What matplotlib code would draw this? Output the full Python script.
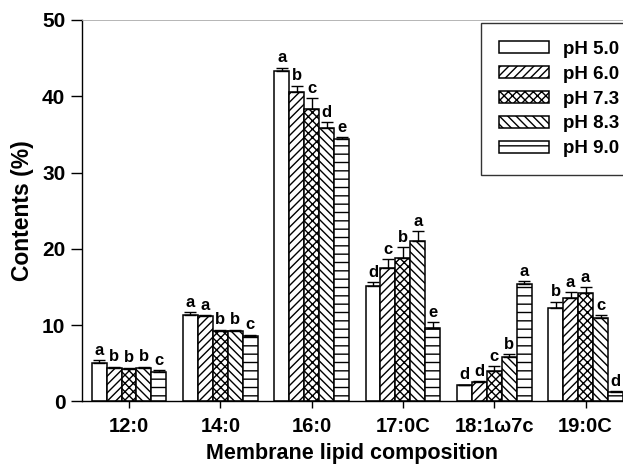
import matplotlib.pyplot as plt
import numpy as np

plt.rcParams['font.family'] = ['Liberation Sans', 'DejaVu Sans']
plt.rcParams['font.weight'] = 'bold'
plt.rcParams['hatch.linewidth'] = 1.0

# Fatty acid groups and pH treatments
lipids = ['12:0', '14:0', '16:0', '17:0C', '18:1\u03c97c', '19:0C']
ph_labels = ['pH 5.0', 'pH 6.0', 'pH 7.3', 'pH 8.3', 'pH 9.0']

# Mean contents (%) for each pH, one value per lipid
ph50 = [5.1, 11.4, 43.3, 15.1, 2.1, 12.2]
ph60 = [4.4, 11.2, 40.5, 17.5, 2.6, 13.6]
ph73 = [4.3, 9.3, 38.3, 18.8, 4.0, 14.2]
ph83 = [4.4, 9.3, 35.8, 21.0, 5.8, 11.0]
ph90 = [3.9, 8.6, 34.4, 9.6, 15.4, 1.2]

# Standard errors (upper bars only)
err50 = [0.3, 0.3, 0.45, 0.5, 0.1, 0.9]
err60 = [0.15, 0.15, 0.9, 1.2, 0.1, 0.7]
err73 = [0.15, 0.1, 1.5, 1.4, 0.6, 0.8]
err83 = [0.15, 0.1, 0.8, 1.3, 0.4, 0.3]
err90 = [0.2, 0.15, 0.2, 0.8, 0.4, 0.15]

# Significance letters
let50 = ['a', 'a', 'a', 'd', 'd', 'b']
let60 = ['b', 'a', 'b', 'c', 'd', 'a']
let73 = ['b', 'b', 'c', 'b', 'c', 'a']
let83 = ['b', 'b', 'd', 'a', 'b', 'c']
let90 = ['c', 'c', 'e', 'e', 'a', 'd']

values = [ph50, ph60, ph73, ph83, ph90]
errors = [err50, err60, err73, err83, err90]
letters = [let50, let60, let73, let83, let90]
hatches = ['', '////', 'xxxx', '\\\\\\\\', '--']

fig = plt.figure(figsize=(6.23, 4.65), dpi=100)
ax = fig.add_axes([0.1316, 0.1366, 1 - 0.1316, 0.957 - 0.1366])

x = np.arange(len(lipids))
w = 0.164
for k in range(5):
    pos = x + (k - 2) * w
    ax.bar(pos, values[k], width=w, color='white', edgecolor='black',
           linewidth=1.1, hatch=hatches[k], label=ph_labels[k], zorder=2)
    ax.errorbar(pos, values[k], yerr=[np.zeros(len(lipids)), errors[k]],
                fmt='none', ecolor='black', elinewidth=1.0, capsize=4,
                capthick=1.0, zorder=3)
    for xi, v, e, t in zip(pos, values[k], errors[k], letters[k]):
        ax.text(xi, v + e + 0.3, t, ha='center', va='bottom',
                fontsize=12, fontweight='bold')

ax.set_xlim(-0.515, 5.41)
ax.set_ylim(0, 50)
ax.set_yticks([0, 10, 20, 30, 40, 50])
ax.set_xticks(x)
ax.set_xticklabels(lipids)
ax.tick_params(axis='y', direction='out', length=8, width=1, labelsize=15, pad=4)
ax.tick_params(axis='x', direction='out', length=5, width=1, labelsize=14.5, pad=6)
for lab in ax.get_xticklabels() + ax.get_yticklabels():
    lab.set_fontweight('bold')

ax.spines['right'].set_visible(False)
ax.spines['top'].set_color('#aaaaaa')
ax.spines['top'].set_linewidth(0.6)
ax.spines['left'].set_linewidth(1.0)
ax.spines['bottom'].set_linewidth(1.0)

ax.set_xlabel('Membrane lipid composition', fontsize=15.5, fontweight='bold', labelpad=5.5)
ax.set_ylabel('Contents (%)', fontsize=16.5, fontweight='bold', labelpad=6)

leg = ax.legend(loc='upper left', bbox_to_anchor=(481 / 623, 1 - 23 / 465),
                bbox_transform=fig.transFigure, fontsize=13.5, frameon=True,
                fancybox=False, edgecolor='black', handlelength=2.7,
                handleheight=0.6, labelspacing=0.42, borderpad=0.95,
                handletextpad=0.7, borderaxespad=0)
leg.get_frame().set_linewidth(1.0)
for t in leg.get_texts():
    t.set_fontweight('bold')

fig.savefig('out.png', dpi=100)
